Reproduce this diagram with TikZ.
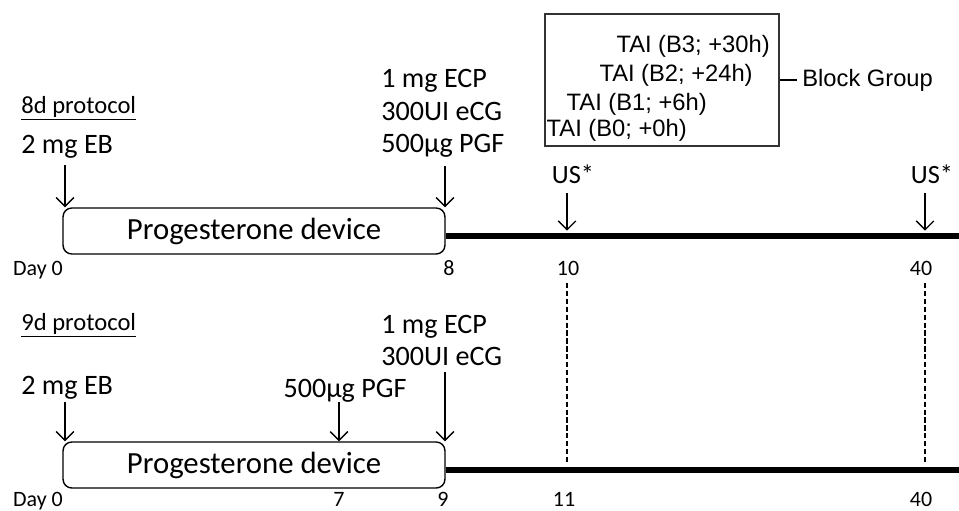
\documentclass[tikz,border=0pt]{standalone}
\usepackage{fontspec}
\setmainfont{Carlito}
\newfontfamily\arialfont{Liberation Sans}
\usetikzlibrary{arrows.meta}

\begin{document}
\begin{tikzpicture}[x=0.02cm,y=-0.02cm,
    dose/.style={inner sep=0pt,anchor=base west,font=\fontsize{16}{19}\selectfont},
    proto/.style={inner sep=0pt,anchor=base west,font=\fontsize{14}{16}\selectfont},
    daylbl/.style={inner sep=0pt,anchor=base,font=\fontsize{12.5}{14}\selectfont},
    device/.style={draw,line width=0.8pt,rounded corners=5pt,minimum width=7.64cm,
      minimum height=0.92cm,inner sep=0pt,font=\fontsize{17.5}{20}\selectfont},
    arr/.style={line width=0.8pt,-{Straight Barb[length=5pt,width=10pt,line width=0.8pt]}},
    follow/.style={line width=3pt},
    tai/.style={inner sep=0pt,anchor=east,font=\arialfont\fontsize{13.5}{16}\selectfont}]

    \useasboundingbox (0,0) rectangle (959,510);

    % Protocolo de 8 dias
    \node[proto] (p8) at (21,113) {\underline{8d protocol}};
    \node[dose] (eb8) at (21,153) {2 mg EB};
    \node[dose] (ecp8) at (381,88) {1 mg ECP};
    \node[dose] (ecg8) at (381,120) {300UI eCG};
    \node[dose] (pgf8) at (381,152) {500µg PGF};

    \node[device] (dev8) at (254,231) {Progesterone device};
    \coordinate (end8) at (959,236);
    \draw[follow] (dev8.east |- end8) -- (end8);

    \coordinate (a0) at (65,165);
    \coordinate (a8) at (445,166);
    \draw[arr] (a0) -- (a0 |- dev8.north);
    \draw[arr] (a8) -- (a8 |- dev8.north);

    % Ecografias
    \node[dose,anchor=base,font=\fontsize{15}{18}\selectfont] (us10) at (573,183) {US*};
    \node[dose,anchor=base,font=\fontsize{15}{18}\selectfont] (us40) at (932,183) {US*};
    \coordinate (u10) at (567,193);
    \coordinate (u40) at (925,193);
    \draw[arr,shorten >=3pt] (u10) -- (u10 |- end8);
    \draw[arr,shorten >=3pt] (u40) -- (u40 |- end8);

    \node[daylbl] (d0a) at (38,275) {Day 0};
    \node[daylbl] (d8) at (449,275) {8};
    \node[daylbl] (d10) at (568,275) {10};
    \node[daylbl] (d40a) at (921,275) {40};

    % Protocolo de 9 dias
    \node[proto] (p9) at (21,330) {\underline{9d protocol}};
    \node[dose] (eb9) at (21,394) {2 mg EB};
    \node[dose] (ecp9) at (381,333) {1 mg ECP};
    \node[dose] (ecg9) at (381,365) {300UI eCG};
    \node[dose,anchor=base] (pgf9) at (345,397) {500µg PGF};

    \node[device] (dev9) at (254,465) {Progesterone device};
    \coordinate (end9) at (959,470);
    \draw[follow] (dev9.east |- end9) -- (end9);

    \coordinate (b0) at (65,402);
    \coordinate (b7) at (339,402);
    \coordinate (b9) at (445,372);
    \draw[arr] (b0) -- (b0 |- dev9.north);
    \draw[arr] (b7) -- (b7 |- dev9.north);
    \draw[arr] (b9) -- (b9 |- dev9.north);

    \node[daylbl] (d0b) at (38,506) {Day 0};
    \node[daylbl] (d7) at (339,506) {7};
    \node[daylbl] (d9) at (443,506) {9};
    \node[daylbl] (d11) at (564,506) {11};
    \node[daylbl] (d40b) at (921,506) {40};

    % Lineas de referencia
    \coordinate (v10) at (567,283);
    \coordinate (v40) at (925,283);
    \draw[line width=0.8pt,dash pattern=on 3pt off 1.5pt,shorten >=4pt] (v10) -- (v10 |- end9);
    \draw[line width=0.8pt,dash pattern=on 3pt off 1.5pt,shorten >=4pt] (v40) -- (v40 |- end9);

    % Grupo de bloques
    \node[draw=black!80,line width=0.8pt,minimum width=4.68cm,minimum height=2.64cm] (blk) at (662,80) {};
    \node[tai] (tai3) at (770,46) {TAI (B3; +30h)};
    \node[tai] (tai2) at (753,75) {TAI (B2; +24h)};
    \node[tai] (tai1) at (707,104) {TAI (B1; +6h)};
    \node[tai] (tai0) at (687,130) {TAI (B0; +0h)};
    \node[tai,anchor=west] (bgrp) at (802,80) {Block Group};
    \draw[line width=1.5pt,shorten >=0.1cm] (blk.east) -- (bgrp.west);
\end{tikzpicture}
\end{document}
